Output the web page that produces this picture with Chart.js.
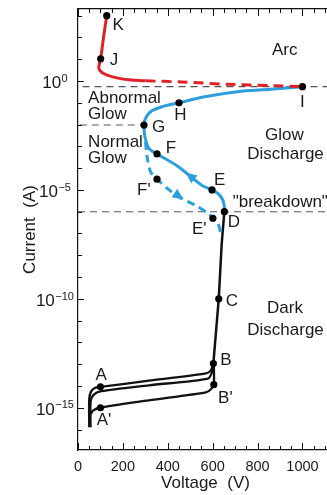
<!DOCTYPE html>
<html><head><meta charset="utf-8">
<script src="https://cdn.jsdelivr.net/npm/chart.js@4.4.0/dist/chart.umd.min.js"></script>
<style>
html,body{margin:0;padding:0;background:#fff;overflow:hidden;}
#wrap{width:327px;height:495px;overflow:hidden;position:relative;background:#fff;}
canvas{display:block;}
</style></head><body>
<div id="wrap"><canvas id="c" width="337" height="495" style="width:337px;height:495px"></canvas></div>
<script>
// ---------- data (Voltage in V, Current in A) ----------
const redSolidV = [128, 114, 101, 93, 118, 184, 257, 301];
const redSolidI = [1000, 105, 10.5, 3.8, 2.1, 1.32, 1.07, 1.02];

const redDashV = [301, 462, 667, 871, 1000];
const redDashI = [1.02, 0.90, 0.71, 0.61, 0.55];

const blueSolidV = [1000, 857, 710, 564, 450, 374, 323, 301, 294, 298, 316, 352, 447, 550, 597, 623, 645, 652, 652];
const blueSolidI = [0.55, 0.416, 0.323, 0.19, 0.1, 0.066, 0.039, 0.0195, 0.0095, 2.75e-3, 8.1e-4, 4.5e-4, 1.17e-4, 1.66e-5, 1e-5, 6.9e-6, 3.5e-6, 1.7e-6, 1e-6];

const blueDashV = [301, 308, 323, 352, 403, 447, 521, 579, 601, 623, 637, 642];
const blueDashI = [1.62e-3, 3.3e-4, 6.9e-5, 3.1e-5, 1.07e-5, 4.9e-6, 2.0e-6, 8.5e-7, 5.0e-7, 2.95e-7, 1.02e-7, 7.1e-8];

const blackMainV = [652, 640, 627, 603];
const blackMainI = [1e-6, 3.2e-8, 1e-10, 1.07e-13];

const curveAV = [50, 50, 58, 75, 100, 316, 570, 592, 603];
const curveAI = [1.26e-16, 2.5e-15, 5.5e-15, 8.1e-15, 9.1e-15, 1.74e-14, 3.8e-14, 5.2e-14, 1.07e-13];

const curveMidV = [56, 56, 68, 104, 316, 579, 597, 603];
const curveMidI = [1.26e-16, 1.8e-15, 3.8e-15, 5.75e-15, 1.07e-14, 2.2e-14, 4.3e-14, 1.07e-13];

const curveA2V = [56, 68, 100, 316, 570, 592, 605, 605];
const curveA2I = [5e-16, 7.6e-16, 1e-15, 2.2e-15, 5.1e-15, 7.1e-15, 1.15e-14, 1.07e-13];

const dotNames = ['K', 'J', 'I', 'H', 'G', 'F', "F'", 'E', "E'", 'D', 'C', 'B', "B'", 'A', "A'"];
const dotV = [128, 101, 1000, 450, 294, 352, 352, 597, 601, 652, 627, 603, 605, 100, 100];
const dotI = [1000, 10.5, 0.55, 0.1, 0.0095, 4.5e-4, 3.1e-5, 1e-5, 5.0e-7, 1e-6, 1e-10, 1.07e-13, 1.15e-14, 9.1e-15, 1e-15];

// reference (dashed gray) levels
const refLevelI = [0.55, 0.0095, 1e-6];
const refFromV = [20, 8, 0];
const refToV = [1136, 294, 1136];

// arrows on the glow branches: [fromV, fromI, toV, toI]
const arrowSolid = [540, 2.0e-5, 480, 6.3e-5];
const arrowDash = [403, 1.07e-5, 470, 3.7e-6];

// region labels, anchored in data coordinates
const regionText = ['Arc', 'Abnormal', 'Glow', 'Normal', 'Glow', 'Glow', 'Discharge', '"breakdown"', 'Dark', 'Discharge'];
const regionV = [864, 45, 45, 45, 45, 833, 754, 689, 842, 754];
const regionI = [15.6, 0.0946, 0.018, 9.6e-4, 1.72e-4, 1.95e-3, 2.6e-4, 1.64e-6, 2.16e-11, 2.18e-12];

// axes / ticks
const X_MIN = 0, X_MAX = 1136;
const Y_MIN = 1.15e-17, Y_MAX = 2.02e3;
const xTickLabels = [0, 200, 400, 600, 800, 1000];
const xMinorTicks = [0, 50, 100, 150, 200, 250, 300, 350, 400, 450, 500, 550, 600, 650, 700, 750, 800, 850, 900, 950, 1000, 1050, 1100];
const yTickLabels = [1e0, 1e-5, 1e-10, 1e-15];
const yTickExponents = ['0', '−5', '−10', '−15'];
const yDecadeTicks = [1e3, 1e2, 1e1, 1e0, 1e-1, 1e-2, 1e-3, 1e-4, 1e-5, 1e-6, 1e-7, 1e-8, 1e-9, 1e-10, 1e-11, 1e-12, 1e-13, 1e-14, 1e-15, 1e-16];

// ---------- styling ----------
const FONT = '"Liberation Sans", Arial, Helvetica, sans-serif';
const RED = '#dc2228', BLUE = '#2a9fdb', INK = '#111111', GRAY = '#555555', TXT = '#1a1a1a';
// label offsets relative to each dot: [dx, dy(baseline), align]
const dotLabelOffset = [
  [5.7, 14.3, 'left'], [9, 6.3, 'left'], [0, 20.3, 'center'], [1.3, 17.3, 'center'],
  [8, 7, 'left'], [8.7, -1, 'left'], [-6.3, 15.7, 'right'], [2, -5, 'left'],
  [-6.3, 16, 'right'], [3.3, 15.3, 'left'], [7, 6.7, 'left'], [7, 1.7, 'left'],
  [4.3, 18.5, 'left'], [0.8, -6.7, 'center'], [-3.7, 17.5, 'left']
];

Chart.defaults.font.family = FONT;
Chart.defaults.color = TXT;

function pts(v, i) { return v.map((x, k) => ({ x: x, y: i[k] })); }
function lineDs(v, i, color, width, dash, tension, order) {
  return { data: pts(v, i), showLine: true, borderColor: color, borderWidth: width, borderDash: dash,
    pointRadius: 0, pointHoverRadius: 0, tension: tension, fill: false, order: order,
    borderCapStyle: 'butt', borderJoinStyle: 'round' };
}

const datasets = [
  { data: pts(dotV, dotI), showLine: false, pointRadius: 3.6, pointBackgroundColor: '#000', pointBorderWidth: 0, order: 0 },
  lineDs(redSolidV, redSolidI, RED, 3, [], 0.3, 2),
  lineDs(redDashV, redDashI, RED, 3, [10, 6], 0.3, 2),
  lineDs(blueSolidV, blueSolidI, BLUE, 3, [], 0.3, 2),
  lineDs(blueDashV, blueDashI, BLUE, 3, [8, 5], 0.3, 2),
  lineDs(blackMainV, blackMainI, INK, 2.5, [], 0, 3),
  lineDs(curveAV, curveAI, INK, 2.3, [], 0.25, 3),
  lineDs(curveMidV, curveMidI, INK, 2.3, [], 0.25, 3),
  lineDs(curveA2V, curveA2I, INK, 2.3, [], 0.25, 3)
];
refLevelI.forEach((lv, k) => {
  datasets.push(lineDs([refFromV[k], refToV[k]], [lv, lv], GRAY, 1.1, [7, 5], 0, 9));
});

const annot = {
  id: 'annot',
  afterDatasetsDraw(chart) {
    const { ctx, chartArea: a, scales } = chart;
    const x = scales.x, y = scales.y;
    ctx.save();
    // inward tick marks
    ctx.strokeStyle = INK; ctx.lineWidth = 1;
    const seg = (x1, y1, x2, y2) => { ctx.beginPath(); ctx.moveTo(x1, y1); ctx.lineTo(x2, y2); ctx.stroke(); };
    xMinorTicks.forEach(v => {
      const px = Math.round(x.getPixelForValue(v)) + 0.5;
      const L = xTickLabels.includes(v) ? 7 : 4;
      seg(px, a.bottom, px, a.bottom - L);
      seg(px, a.top, px, a.top + L);
    });
    yDecadeTicks.forEach(v => {
      const py = Math.round(y.getPixelForValue(v)) + 0.5;
      const L = yTickLabels.includes(v) ? 6 : 4;
      seg(a.left, py, a.left + L, py);
    });
    // y tick labels: 10 with superscript exponent
    ctx.fillStyle = TXT; ctx.textAlign = 'left'; ctx.textBaseline = 'alphabetic';
    yTickLabels.forEach((v, k) => {
      const py = y.getPixelForValue(v);
      ctx.font = '17px ' + FONT;
      const w1 = ctx.measureText('10').width;
      ctx.font = '11px ' + FONT;
      const w2 = ctx.measureText(yTickExponents[k]).width;
      const left = a.left - 23.3 - (w1 + w2) / 2;
      ctx.font = '17px ' + FONT;
      ctx.fillText('10', left, py + 7.4);
      ctx.font = '11px ' + FONT;
      ctx.fillText(yTickExponents[k], left + w1 + 0.5, py + 0.7);
    });
    // arrows
    ctx.fillStyle = BLUE;
    [arrowSolid, arrowDash].forEach(ar => {
      const x1 = x.getPixelForValue(ar[0]), y1 = y.getPixelForValue(ar[1]);
      const x2 = x.getPixelForValue(ar[2]), y2 = y.getPixelForValue(ar[3]);
      const ang = Math.atan2(y2 - y1, x2 - x1);
      const len = 11, hw = 5;
      ctx.beginPath();
      ctx.moveTo(x2, y2);
      ctx.lineTo(x2 - len * Math.cos(ang) + hw * Math.sin(ang), y2 - len * Math.sin(ang) - hw * Math.cos(ang));
      ctx.lineTo(x2 - len * Math.cos(ang) - hw * Math.sin(ang), y2 - len * Math.sin(ang) + hw * Math.cos(ang));
      ctx.closePath(); ctx.fill();
    });
    // point letters
    ctx.fillStyle = TXT; ctx.textBaseline = 'alphabetic';
    ctx.font = '17px ' + FONT;
    dotNames.forEach((n, k) => {
      const px = x.getPixelForValue(dotV[k]), py = y.getPixelForValue(dotI[k]);
      const o = dotLabelOffset[k];
      ctx.textAlign = o[2];
      ctx.fillText(n, px + o[0], py + o[1]);
    });
    // region labels
    ctx.textAlign = 'left';
    regionText.forEach((t, k) => {
      ctx.fillText(t, x.getPixelForValue(regionV[k]), y.getPixelForValue(regionI[k]));
    });
    ctx.restore();
  }
};

new Chart(document.getElementById('c'), {
  type: 'scatter',
  data: { datasets: datasets },
  plugins: [annot],
  options: {
    responsive: false, animation: false, devicePixelRatio: 1,
    layout: { padding: 0 },
    plugins: { legend: { display: false }, tooltip: { enabled: false } },
    scales: {
      x: {
        type: 'linear', position: 'bottom', min: X_MIN, max: X_MAX, bounds: 'data',
        afterBuildTicks: s => { s.ticks = xTickLabels.map(v => ({ value: v })); },
        afterFit: s => { s.height = 45; },
        grid: { display: false, drawTicks: false },
        border: { display: true, color: INK, width: 1.2 },
        ticks: { padding: 8, autoSkip: false, maxRotation: 0, font: { size: 14.5 }, color: TXT,
          callback: v => String(v) },
        title: { display: true, text: 'Voltage  (V)', font: { size: 17 }, color: TXT, padding: { top: 0, bottom: 1 } }
      },
      x2: {
        type: 'linear', position: 'top', min: X_MIN, max: X_MAX, bounds: 'data',
        afterFit: s => { s.height = 9; },
        grid: { display: false, drawTicks: false },
        border: { display: true, color: INK, width: 1.2 },
        ticks: { display: false }
      },
      y: {
        type: 'logarithmic', position: 'left', min: Y_MIN, max: Y_MAX, bounds: 'data',
        afterBuildTicks: s => { s.ticks = yTickLabels.map(v => ({ value: v })); },
        afterFit: s => { s.width = 78; },
        grid: { display: false, drawTicks: false },
        border: { display: true, color: INK, width: 1.2 },
        ticks: { display: false },
        title: { display: true, text: 'Current  (A)', font: { size: 17 }, color: TXT, padding: { top: 20, bottom: 0 } }
      }
    }
  }
});
</script></body></html>
